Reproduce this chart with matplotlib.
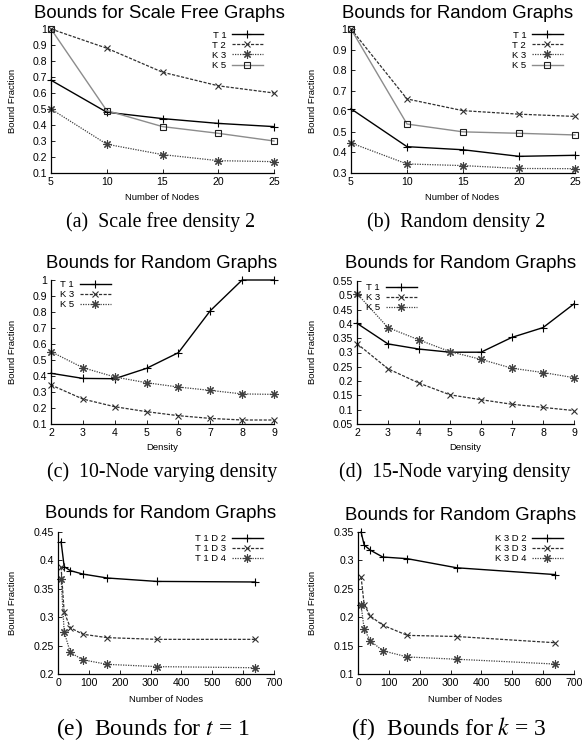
import matplotlib
matplotlib.use('Agg')
import matplotlib.pyplot as plt
from matplotlib.ticker import FixedLocator, FuncFormatter

plt.rcParams['font.family'] = ['Liberation Sans', 'DejaVu Sans']
plt.rcParams['mathtext.fontset'] = 'stix'

# ---------------- data ----------------
nodes_small = [5, 10, 15, 20, 25]
a_T1 = [0.68, 0.48, 0.44, 0.41, 0.39]
a_T2 = [1.0, 0.88, 0.73, 0.645, 0.60]
a_K3 = [0.50, 0.28, 0.215, 0.177, 0.171]
a_K5 = [1.0, 0.49, 0.39, 0.348, 0.30]

b_T1 = [0.612, 0.428, 0.413, 0.381, 0.386]
b_T2 = [1.0, 0.66, 0.603, 0.586, 0.575]
b_K3 = [0.446, 0.344, 0.336, 0.322, 0.321]
b_K5 = [1.0, 0.538, 0.50, 0.493, 0.485]

density = [2, 3, 4, 5, 6, 7, 8, 9]
c_T1 = [0.417, 0.385, 0.383, 0.448, 0.546, 0.808, 1.0, 1.0]
c_K3 = [0.344, 0.256, 0.208, 0.177, 0.152, 0.135, 0.125, 0.125]
c_K5 = [0.552, 0.452, 0.394, 0.358, 0.331, 0.31, 0.288, 0.285]

d_T1 = [0.402, 0.33, 0.312, 0.301, 0.301, 0.353, 0.387, 0.47]
d_K3 = [0.331, 0.243, 0.193, 0.152, 0.135, 0.119, 0.108, 0.097]
d_K5 = [0.506, 0.387, 0.344, 0.303, 0.276, 0.245, 0.230, 0.212]

nodes_large = [10, 20, 40, 80, 160, 320, 640]
e_T1D2 = [0.433, 0.389, 0.382, 0.376, 0.369, 0.363, 0.362]
e_T1D3 = [0.388, 0.309, 0.2815, 0.270, 0.264, 0.261, 0.261]
e_T1D4 = [0.368, 0.274, 0.238, 0.225, 0.217, 0.213, 0.211]

f_K3D2 = [0.35, 0.327, 0.318, 0.306, 0.303, 0.287, 0.275]
f_K3D3 = [0.271, 0.222, 0.202, 0.186, 0.168, 0.166, 0.155]
f_K3D4 = [0.221, 0.179, 0.1585, 0.141, 0.130, 0.126, 0.1175]

ticks_01_1 = [0.1, 0.2, 0.3, 0.4, 0.5, 0.6, 0.7, 0.8, 0.9, 1.0]
ticks_03_1 = [0.3, 0.4, 0.5, 0.6, 0.7, 0.8, 0.9, 1.0]
ticks_d = [0.05, 0.1, 0.15, 0.2, 0.25, 0.3, 0.35, 0.4, 0.45, 0.5, 0.55]
ticks_e = [0.2, 0.25, 0.3, 0.35, 0.4, 0.45]
ticks_f = [0.1, 0.15, 0.2, 0.25, 0.3, 0.35]
xt_small = [5, 10, 15, 20, 25]
xt_density = [2, 3, 4, 5, 6, 7, 8, 9]
xt_large = [0, 100, 200, 300, 400, 500, 600, 700]

title_sf = 'Bounds for Scale Free Graphs'
title_rg = 'Bounds for Random Graphs'
captions = ['(a)  Scale free density 2', '(b)  Random density 2',
            '(c)  10-Node varying density', '(d)  15-Node varying density',
            '(e)  Bounds for $t$ = 1', '(f)  Bounds for $k$ = 3']

# ---------------- styles ----------------
W, H = 586, 742
fig = plt.figure(figsize=(W / 100, H / 100), dpi=100)

STY = {
    'lt1': dict(color='black', lw=1.0, ls='-', marker='+', ms=6, mew=0.8),
    'lt2': dict(color='#303030', lw=0.9, ls=(0, (2.5, 1.2)), marker='x', ms=5, mew=0.8),
    'lt3': dict(color='#404040', lw=0.9, ls=(0, (1, 1)), marker=(8, 2, 0), ms=6, mew=0.8),
    'lt4': dict(color='#8c8c8c', lw=1.0, ls='-', marker='s', ms=5, mew=0.8,
                mfc='none', mec='#202020'),
}


def px_axes(x0, y0, x1, y1):
    return fig.add_axes([x0 / W, 1 - y1 / H, (x1 - x0) / W, (y1 - y0) / H])


fmt = FuncFormatter(lambda v, p: '%g' % round(v, 4))


def style_axes(ax, xlim, ylim, xt, yt):
    ax.set_xlim(*xlim)
    ax.set_ylim(*ylim)
    ax.xaxis.set_major_locator(FixedLocator(xt))
    ax.yaxis.set_major_locator(FixedLocator(yt))
    ax.xaxis.set_major_formatter(fmt)
    ax.yaxis.set_major_formatter(fmt)
    for s in ['top', 'right']:
        ax.spines[s].set_visible(False)
    for s in ['left', 'bottom']:
        ax.spines[s].set_linewidth(0.9)
    ax.tick_params(direction='in', length=3, width=0.6, labelsize=7.6, pad=3)
    ax.patch.set_alpha(0)


def plot_series(ax, x, series):
    for y, lab, lt in series:
        ax.plot(x, y, label=lab, clip_on=False, **STY[lt])


def add_legend(ax, loc, xpx, ypx):
    ax.legend(loc=loc, bbox_to_anchor=(xpx / W, 1 - ypx / H), bbox_transform=fig.transFigure,
              frameon=False, markerfirst=False, numpoints=1, fontsize=6.8,
              handlelength=3.3, handletextpad=0.6, labelspacing=0.12,
              borderpad=0, borderaxespad=0)


def ftext(xpx, ypx, s, **kw):
    fig.text(xpx / W, 1 - ypx / H, s, ha='center', va='center', **kw)


# panel rects in pixels (x0, y0, x1, y1)
panels = [
    (51, 29, 274, 173),
    (351, 29, 575, 173),
    (51, 280, 274, 424),
    (357, 281, 574, 424),
    (58, 532, 274, 674),
    (358, 532, 574, 674),
]

# (a)
ax = px_axes(*panels[0])
plot_series(ax, nodes_small, [(a_T1, 'T 1', 'lt1'), (a_T2, 'T 2', 'lt2'),
                              (a_K3, 'K 3', 'lt3'), (a_K5, 'K 5', 'lt4')])
style_axes(ax, (5, 25), (0.1, 1.0), xt_small, ticks_01_1)
add_legend(ax, 'upper right', 263, 30.5)

# (b)
ax = px_axes(*panels[1])
plot_series(ax, nodes_small, [(b_T1, 'T 1', 'lt1'), (b_T2, 'T 2', 'lt2'),
                              (b_K3, 'K 3', 'lt3'), (b_K5, 'K 5', 'lt4')])
style_axes(ax, (5, 25), (0.3, 1.0), xt_small, ticks_03_1)
add_legend(ax, 'upper right', 563, 30.5)

# (c)
ax = px_axes(*panels[2])
plot_series(ax, density, [(c_T1, 'T 1', 'lt1'), (c_K3, 'K 3', 'lt2'),
                          (c_K5, 'K 5', 'lt3')])
style_axes(ax, (2, 9), (0.1, 1.0), xt_density, ticks_01_1)
add_legend(ax, 'upper left', 60, 280)

# (d)
ax = px_axes(*panels[3])
plot_series(ax, density, [(d_T1, 'T 1', 'lt1'), (d_K3, 'K 3', 'lt2'),
                          (d_K5, 'K 5', 'lt3')])
style_axes(ax, (2, 9), (0.05, 0.55), xt_density, ticks_d)
add_legend(ax, 'upper left', 366, 283)

# (e)
ax = px_axes(*panels[4])
plot_series(ax, nodes_large, [(e_T1D2, 'T 1 D 2', 'lt1'), (e_T1D3, 'T 1 D 3', 'lt2'),
                              (e_T1D4, 'T 1 D 4', 'lt3')])
style_axes(ax, (0, 700), (0.2, 0.45), xt_large, ticks_e)
add_legend(ax, 'upper right', 263, 534)

# (f)
ax = px_axes(*panels[5])
plot_series(ax, nodes_large, [(f_K3D2, 'K 3 D 2', 'lt1'), (f_K3D3, 'K 3 D 3', 'lt2'),
                              (f_K3D4, 'K 3 D 4', 'lt3')])
style_axes(ax, (0, 700), (0.1, 0.35), xt_large, ticks_f)
add_legend(ax, 'upper right', 563, 534)

# titles
titles = [(159.5, 13, title_sf), (458, 13, title_rg), (162, 263, title_rg),
          (461, 264, title_rg), (161, 514, title_rg), (460.5, 515, title_rg)]
for x, y, s in titles:
    ftext(x, y, s, fontsize=13.4)

# axis labels
ylabels = [(12.5, 101), (312.5, 101), (12.5, 352), (312.5, 352), (12.5, 603), (312.5, 603)]
for x, y in ylabels:
    ftext(x, y, 'Bound Fraction', fontsize=6.8, rotation=90)
xlabels = [(162, 198, 'Number of Nodes'), (462.5, 198, 'Number of Nodes'),
           (162.5, 448, 'Density'), (465.5, 448, 'Density'),
           (166, 699, 'Number of Nodes'), (465.5, 699, 'Number of Nodes')]
for x, y, s in xlabels:
    ftext(x, y, s, fontsize=6.8)

# captions
cap_pos = [(161, 222), (456, 222), (162, 472), (454.5, 472), (152.5, 729), (448.5, 729)]
cap_size = [14.3, 14.3, 14.3, 14.3, 17, 17]
for (x, y), s, fs in zip(cap_pos, captions, cap_size):
    ftext(x, y, s, fontsize=fs, family=['Liberation Serif', 'DejaVu Serif'])

fig.savefig('out.png', dpi=100)
